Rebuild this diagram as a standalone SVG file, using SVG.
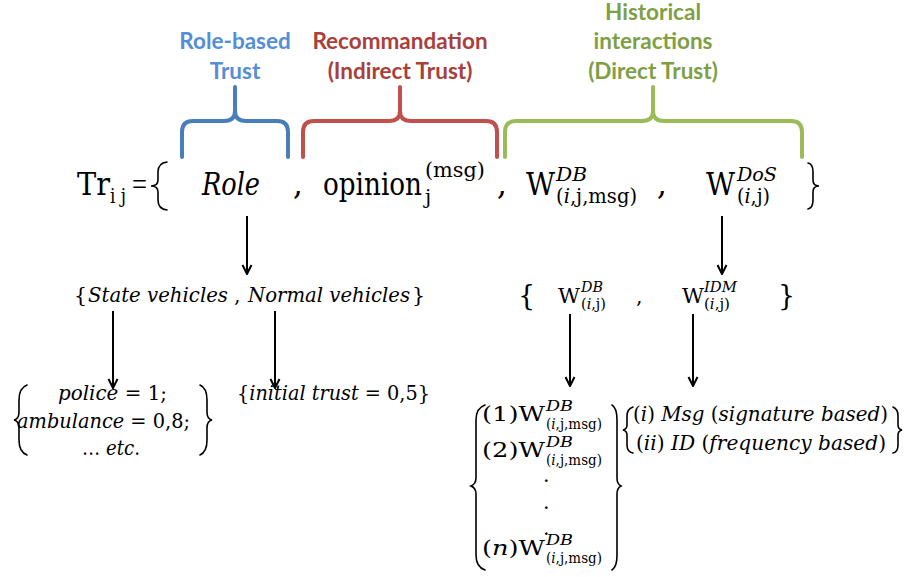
<svg xmlns="http://www.w3.org/2000/svg" width="910" height="577" viewBox="0 0 910 577">
<defs>
<style>
.lbl{font-family:Lato,"Open Sans","Liberation Sans",sans-serif;font-weight:bold;font-size:22.5px;text-anchor:middle}
.blue{fill:#558ED5}
.red{fill:#A8403C}
.green{fill:#7F9F45}
.m{font-family:"DejaVu Serif","Liberation Serif",serif;fill:#000}
.it{font-style:italic}
.br{fill:none;stroke-width:4;stroke-linecap:round;stroke-linejoin:round}
.mb{fill:none;stroke:#000;stroke-width:1.6;stroke-linecap:round}
.conn{stroke:#000;stroke-width:2;fill:none}
</style>
<marker id="ah" viewBox="0 0 12 12" refX="11" refY="6" markerWidth="12" markerHeight="12" markerUnits="userSpaceOnUse" orient="auto">
<path d="M2,1.5 L11,6 L2,10.5" fill="none" stroke="#000" stroke-width="2"/>
</marker>
</defs>
<rect width="910" height="577" fill="#fff"/>

<!-- category labels -->
<g id="label-role">
<text class="lbl blue" x="235" y="49">Role-based</text>
<text class="lbl blue" x="235" y="79">Trust</text>
</g>
<g id="label-recommendation">
<text class="lbl red" x="400" y="49">Recommandation</text>
<text class="lbl red" x="400" y="79">(Indirect Trust)</text>
</g>
<g id="label-historical">
<text class="lbl green" x="653" y="20">Historical</text>
<text class="lbl green" x="653" y="49">interactions</text>
<text class="lbl green" x="653" y="79">(Direct Trust)</text>
</g>

<!-- grouping braces -->
<g id="brace-role">
<path class="br" stroke="#4A7EBB" d="M182,157 V132 Q182,121 193,121 H224 Q235,121 235,111 V87 M235,111 Q235,121 246,121 H277 Q288,121 288,132 V157"/>
</g>
<g id="brace-recommendation">
<path class="br" stroke="#C0504D" d="M303,157 V132 Q303,121 314,121 H389 Q400,121 400,111 V87 M400,111 Q400,121 411,121 H486 Q497,121 497,132 V157"/>
</g>
<g id="brace-historical">
<path class="br" stroke="#9BBB59" d="M505,157 V132 Q505,121 516,121 H642 Q653,121 653,111 V87 M653,111 Q653,121 664,121 H791 Q802,121 802,132 V157"/>
</g>

<!-- trust equation -->
<g id="equation">
<text class="m" x="77" y="195" font-size="31" textLength="33" lengthAdjust="spacingAndGlyphs">Tr</text>
<text class="m" x="110" y="203" font-size="20" textLength="16" lengthAdjust="spacingAndGlyphs">i j</text>
<text x="132" y="195" font-family="'Liberation Serif',serif" font-size="32" textLength="15" lengthAdjust="spacingAndGlyphs">=</text>
<path class="mb" stroke-width="2" d="M167,162 Q158,163 158,172 V180 Q158,186 151,186 Q158,186 158,192 V200 Q158,209 167,210"/>
<text class="m it" x="202" y="195" font-size="31" textLength="58" lengthAdjust="spacingAndGlyphs">Role</text>
<text class="m" x="293" y="195" font-size="31">,</text>
<text class="m" x="323" y="195" font-size="31" textLength="99" lengthAdjust="spacingAndGlyphs">opinion</text>
<text class="m" x="425" y="177" font-size="20" textLength="60" lengthAdjust="spacingAndGlyphs">(msg)</text>
<text class="m" x="425" y="204" font-size="20">j</text>
<text class="m" x="497" y="195" font-size="31">,</text>
<text class="m" x="526" y="195" font-size="31" textLength="29" lengthAdjust="spacingAndGlyphs">W</text>
<text class="m it" x="556" y="181" font-size="18" textLength="31" lengthAdjust="spacingAndGlyphs">DB</text>
<text class="m" x="556" y="203" font-size="20" textLength="81" lengthAdjust="spacingAndGlyphs">(<tspan class="it">i</tspan>,j,msg)</text>
<text class="m" x="657" y="195" font-size="31">,</text>
<text class="m" x="706" y="195" font-size="31" textLength="29" lengthAdjust="spacingAndGlyphs">W</text>
<text class="m it" x="737" y="181" font-size="18" textLength="40" lengthAdjust="spacingAndGlyphs">DoS</text>
<text class="m" x="737" y="203" font-size="20" textLength="33" lengthAdjust="spacingAndGlyphs">(<tspan class="it">i</tspan>,j)</text>
<path class="mb" stroke-width="2" d="M808,163 Q813,164 813,172 V180 Q813,186 819,186 Q813,186 813,192 V200 Q813,208 808,209"/>
</g>

<!-- role set -->
<g id="role-set">
<text class="m" x="74" y="302" font-size="20.5">{</text>
<text class="m it" x="88" y="302" font-size="20.5" textLength="140" lengthAdjust="spacingAndGlyphs">State vehicles</text>
<text class="m" x="234" y="302" font-size="20.5">,</text>
<text class="m it" x="248" y="302" font-size="20.5" textLength="162" lengthAdjust="spacingAndGlyphs">Normal vehicles</text>
<text class="m" x="412" y="302" font-size="20.5">}</text>
</g>

<!-- direct trust set -->
<g id="direct-set">
<text class="m" x="518" y="305" font-size="27">{</text>
<text class="m" x="558" y="303" font-size="20.5" textLength="22" lengthAdjust="spacingAndGlyphs">W</text>
<text class="m it" x="581" y="292" font-size="14" textLength="22" lengthAdjust="spacingAndGlyphs">DB</text>
<text class="m" x="581" y="309" font-size="15" textLength="25" lengthAdjust="spacingAndGlyphs">(<tspan class="it">i</tspan>,j)</text>
<text class="m" x="636" y="303" font-size="20.5">,</text>
<text class="m" x="682" y="303" font-size="20.5" textLength="22" lengthAdjust="spacingAndGlyphs">W</text>
<text class="m it" x="704" y="292" font-size="14" textLength="33" lengthAdjust="spacingAndGlyphs">IDM</text>
<text class="m" x="704" y="309" font-size="15" textLength="26" lengthAdjust="spacingAndGlyphs">(<tspan class="it">i</tspan>,j)</text>
<text class="m" x="778" y="305" font-size="27">}</text>
</g>

<!-- state vehicle values -->
<g id="state-values">
<path class="mb" d="M27,385 Q19,388 19,400 V412 Q19,419 14,420 Q19,421 19,428 V440 Q19,452 27,455"/>
<text class="m" x="58" y="400" font-size="20.5" textLength="109" lengthAdjust="spacingAndGlyphs"><tspan class="it">police</tspan> = 1;</text>
<text class="m" x="17" y="428" font-size="20.5" textLength="173" lengthAdjust="spacingAndGlyphs"><tspan class="it">ambulance</tspan> = 0,8;</text>
<text class="m" x="82" y="455" font-size="20.5" textLength="58" lengthAdjust="spacingAndGlyphs">… <tspan class="it">etc</tspan>.</text>
<path class="mb" d="M200,385 Q207,388 207,400 V412 Q207,419 212,420 Q207,421 207,428 V440 Q207,452 200,455"/>
</g>

<!-- normal vehicle value -->
<g id="normal-value">
<text class="m" x="237" y="400" font-size="20.5" textLength="193" lengthAdjust="spacingAndGlyphs">{<tspan class="it">initial trust</tspan> = 0,5}</text>
</g>

<!-- data-based weights -->
<g id="db-list">
<path class="mb" d="M485,405 Q476,408 476,420 V478 Q476,484 471,486 Q476,488 476,494 V555 Q476,567 485,570"/>
<text class="m" x="482" y="421" font-size="20.5" textLength="63" lengthAdjust="spacingAndGlyphs">(1)W</text>
<text class="m it" x="546" y="411" font-size="14" textLength="27" lengthAdjust="spacingAndGlyphs">DB</text>
<text class="m" x="546" y="429" font-size="15" textLength="56" lengthAdjust="spacingAndGlyphs">(<tspan class="it">i</tspan>,j,msg)</text>
<text class="m" x="482" y="457" font-size="20.5" textLength="63" lengthAdjust="spacingAndGlyphs">(2)W</text>
<text class="m it" x="546" y="447" font-size="14" textLength="27" lengthAdjust="spacingAndGlyphs">DB</text>
<text class="m" x="546" y="465" font-size="15" textLength="56" lengthAdjust="spacingAndGlyphs">(<tspan class="it">i</tspan>,j,msg)</text>
<text class="m" x="543" y="482" font-size="20.5">.</text>
<text class="m" x="543" y="509" font-size="20.5">.</text>
<text class="m" x="543" y="535" font-size="20.5">.</text>
<text class="m" x="482" y="555" font-size="20.5" textLength="63" lengthAdjust="spacingAndGlyphs">(<tspan class="it">n</tspan>)W</text>
<text class="m it" x="546" y="545" font-size="14" textLength="27" lengthAdjust="spacingAndGlyphs">DB</text>
<text class="m" x="546" y="563" font-size="15" textLength="56" lengthAdjust="spacingAndGlyphs">(<tspan class="it">i</tspan>,j,msg)</text>
<path class="mb" d="M612,405 Q617,408 617,420 V478 Q617,484 621,486 Q617,488 617,494 V555 Q617,567 612,570"/>
</g>

<!-- intrusion detection methods -->
<g id="idm-list">
<path class="mb" d="M633,407 Q627,409 627,416 V425 Q627,429 623,430 Q627,431 627,435 V445 Q627,452 633,453"/>
<text class="m" x="633" y="421" font-size="20.5" textLength="255" lengthAdjust="spacingAndGlyphs">(<tspan class="it">i</tspan>) <tspan class="it">Msg</tspan> (<tspan class="it">signature based</tspan>)</text>
<text class="m" x="636" y="450" font-size="20.5" textLength="250" lengthAdjust="spacingAndGlyphs">(<tspan class="it">ii</tspan>) <tspan class="it">ID</tspan> (<tspan class="it">frequency based</tspan>)</text>
<path class="mb" d="M893,407 Q898,409 898,416 V425 Q898,429 902,430 Q898,431 898,435 V445 Q898,452 893,453"/>
</g>

<!-- connectors -->
<g id="connectors">
<path class="conn" marker-end="url(#ah)" d="M247,216 V274"/>
<path class="conn" marker-end="url(#ah)" d="M722,216 V274"/>
<path class="conn" marker-end="url(#ah)" d="M113,311 V388"/>
<path class="conn" marker-end="url(#ah)" d="M275,311 V388"/>
<path class="conn" marker-end="url(#ah)" d="M570,314 V386"/>
<path class="conn" marker-end="url(#ah)" d="M693,314 V386"/>
</g>
</svg>
